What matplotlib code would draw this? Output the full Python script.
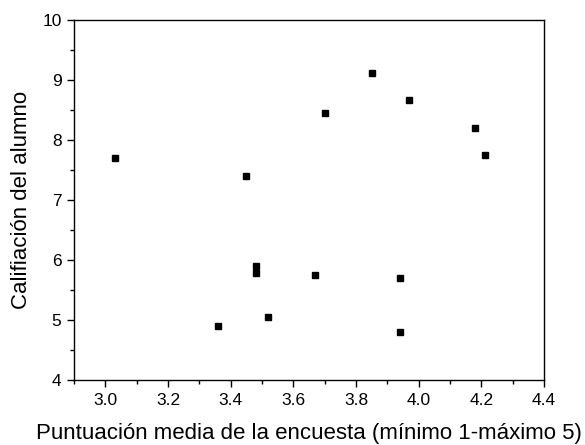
import matplotlib
matplotlib.use("Agg")
import matplotlib.pyplot as plt
from matplotlib.ticker import MultipleLocator

plt.rcParams['font.family'] = ['Liberation Sans', 'DejaVu Sans']

# puntuacion media de la encuesta vs calificacion del alumno
puntuacion = [3.03, 3.45, 3.70, 3.85, 3.97, 4.18, 4.21,
              3.48, 3.48, 3.67, 3.94, 3.52, 3.36, 3.94]
calificacion = [7.70, 7.40, 8.45, 9.11, 8.66, 8.20, 7.75,
                5.90, 5.79, 5.75, 5.70, 5.05, 4.90, 4.80]

fig = plt.figure(figsize=(5.85, 4.45), dpi=100)
ax = fig.add_axes([0.1265, 0.146, 0.8035, 0.809])

ax.plot(puntuacion, calificacion, 's', color='black', markersize=5, linestyle='none')

ax.set_xlim(2.9, 4.4)
ax.set_ylim(4, 10)
ax.xaxis.set_major_locator(MultipleLocator(0.2))
ax.xaxis.set_minor_locator(MultipleLocator(0.1))
ax.yaxis.set_major_locator(MultipleLocator(1))
ax.yaxis.set_minor_locator(MultipleLocator(0.5))
ax.xaxis.set_major_formatter(matplotlib.ticker.FormatStrFormatter('%.1f'))

ax.tick_params(which='major', direction='out', length=5, width=1, labelsize=12.5,
               pad=4, top=False, right=False)
ax.tick_params(which='minor', direction='out', length=3, width=1, top=False, right=False)
for s in ax.spines.values():
    s.set_linewidth(1)

ax.set_xlabel('Puntuación media de la encuesta (mínimo 1-máximo 5)', fontsize=16, labelpad=11)
ax.set_ylabel('Califiación del alumno', fontsize=16, labelpad=7)

fig.savefig('out.png', dpi=100)
